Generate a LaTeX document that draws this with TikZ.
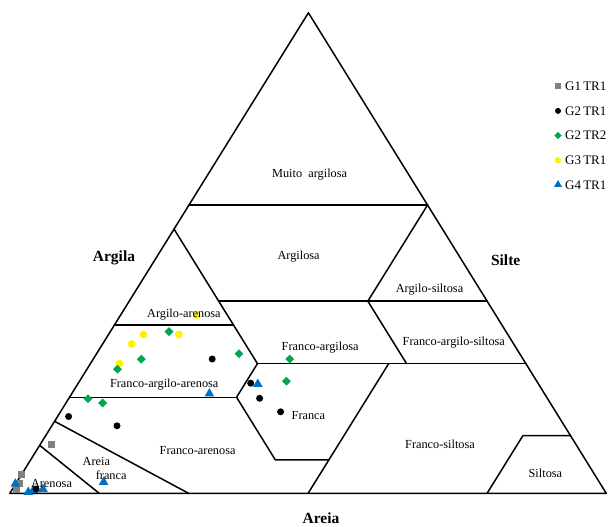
\documentclass[tikz,border=0pt]{standalone}
\usepackage{fontspec}
\setmainfont{Liberation Serif}
\usetikzlibrary{shapes.geometric}
\definecolor{ptgray}{RGB}{128,128,128}
\definecolor{ptgreen}{RGB}{0,166,80}
\definecolor{ptyellow}{RGB}{255,242,0}
\definecolor{ptblue}{RGB}{0,112,192}
\begin{document}
\begin{tikzpicture}[x=1pt,y=-1pt,
  bnd/.style={line width=1.5pt,black,line cap=round,line join=round},
  lbl/.style={font=\fontsize{12.3}{14}\selectfont,inner sep=0pt},
  axl/.style={font=\fontsize{15.5}{17}\selectfont\bfseries,inner sep=0pt},
  leg/.style={font=\fontsize{13}{15}\selectfont,inner sep=0pt,anchor=west},
  psq/.style={rectangle,fill=ptgray,minimum size=7pt,inner sep=0pt},
  pbk/.style={circle,fill=black,minimum size=7pt,inner sep=0pt},
  pgr/.style={diamond,fill=ptgreen,minimum size=9pt,inner sep=0pt},
  pye/.style={circle,fill=ptyellow,minimum size=7.8pt,inner sep=0pt},
  pbl/.style={regular polygon,regular polygon sides=3,fill=ptblue,minimum size=11pt,inner sep=0pt}]
\useasboundingbox (0,0) rectangle (616,527);
\fill[white] (0,0) rectangle (616,527);
% ternary frame: (silt, clay) in percent
\begin{scope}[shift={(9.8pt,-493.4pt)},x={(5.965pt,0pt)},y={(2.986pt,4.806pt)}]
  \coordinate (A) at (0,0);
  \coordinate (B) at (100,0);
  \coordinate (C) at (0,100);
  \coordinate (m1) at (0,60);   \coordinate (m2) at (40,60);
  \coordinate (g1) at (15,40);  \coordinate (g2) at (60,40);
  \coordinate (s1) at (0,55);   \coordinate (s2) at (28,27);
  \coordinate (t1) at (40,40);
  \coordinate (c1) at (0,35);   \coordinate (c2) at (20,35);
  \coordinate (k1) at (73,27);
  \coordinate (d1) at (0,20);   \coordinate (d2) at (28,20);
  \coordinate (e1) at (41,7);   \coordinate (e2) at (50,7);
  \coordinate (f1) at (50,0);   \coordinate (f2) at (50,27);
  \coordinate (h2) at (53,27);
  \coordinate (u1) at (80,0);   \coordinate (u2) at (80,12);  \coordinate (u3) at (88,12);
  \coordinate (l1) at (0,15);   \coordinate (l2) at (30,0);
  \coordinate (n1) at (0,10);   \coordinate (n2) at (15,0);
\end{scope}
\draw[bnd] (A) -- (B) -- (C) -- cycle;
\draw[bnd] (m1) -- (m2);
\draw[bnd] (g1) -- (g2);
\draw[bnd] (s1) -- (s2);
\draw[bnd] (t1) -- (m2);
\draw[bnd] (c1) -- (c2);
\draw[bnd] (s2) -- (k1);
\draw[bnd] (d1) -- (d2);
\draw[bnd] (s2) -- (d2) -- (e1) -- (e2);
\draw[bnd] (f1) -- (f2);
\draw[bnd] (t1) -- (h2);
\draw[bnd] (u1) -- (u2) -- (u3);
\draw[bnd] (l1) -- (l2);
\draw[bnd] (n1) -- (n2);
% data points
\node[pye] (y5) at (196.5,315.3) {};
\node[pye] (y1) at (143.4,334.5) {};
\node[pye] (y2) at (131.6,343.9) {};
\node[pye] (y3) at (178.8,334.5) {};
\node[pye] (y4) at (119.5,363.6) {};
\node[pgr] (q1) at (169,331.6) {};
\node[pgr] (q2) at (239,353.8) {};
\node[pgr] (q3) at (141.3,359.2) {};
\node[pgr] (q4) at (117.4,369.2) {};
\node[pgr] (q5) at (289.7,359) {};
\node[pgr] (q6) at (286.4,381.2) {};
\node[pgr] (q7) at (88,398.8) {};
\node[pgr] (q8) at (102.6,403) {};
\node[pbk] (k1p) at (212.2,359) {};
\node[pbk] (k2p) at (250.7,383.2) {};
\node[pbk] (k3p) at (259.6,398.3) {};
\node[pbk] (k4p) at (280.6,411.8) {};
\node[pbk] (k5p) at (68.6,416.5) {};
\node[pbk] (k6p) at (117,425.8) {};
\node[psq] (r1) at (51,444.5) {};
\node[psq] (r2) at (21.7,474) {};
\node[psq] (r3) at (19.5,483.8) {};
\node[psq] (r4) at (16.5,489.5) {};
\node[pbl] (b1) at (209.4,393.6) {};
\node[pbl] (b2) at (257.8,384) {};
\node[pbl] (b3) at (103.6,482) {};
\node[pbl] (b4) at (15.3,483.8) {};
\node[pbl] (b5) at (28.3,492) {};
\node[pbl] (b6) at (33.5,490) {};
\node[pbk] (k7p) at (36.1,489) {};
\node[pbl] (b7) at (43,489) {};
% region labels
\node[lbl] (L1) at (309.6,174.1) {Muito\ \ argilosa};
\node[lbl] (L2) at (298.6,256.1) {Argilosa};
\node[lbl] (L3) at (429.5,289.1) {Argilo-siltosa};
\node[lbl] (L4) at (183.9,314.3) {Argilo-arenosa};
\node[lbl] (L5) at (320.2,347.2) {Franco-argilosa};
\node[lbl] (L6) at (453.8,342.2) {Franco-argilo-siltosa};
\node[lbl] (L7) at (164.2,384.2) {Franco-argilo-arenosa};
\node[lbl] (L8) at (308.4,415.1) {Franca};
\node[lbl] (L9) at (197.6,450.4) {Franco-arenosa};
\node[lbl] (L10) at (440,444.7) {Franco-siltosa};
\node[lbl] (L11) at (545.4,473.3) {Siltosa};
\node[lbl] (L12) at (96.3,461.5) {Areia};
\node[lbl] (L13) at (111.2,475.6) {franca};
\node[lbl] (L14) at (51.5,483) {Arenosa};
% axis labels
\node[axl] (AX1) at (114,258.2) {Argila};
\node[axl] (AX2) at (505.7,260.5) {Silte};
\node[axl] (AX3) at (321,518.5) {Areia};
% legend
\node[psq,minimum size=6pt] (lg1) at (558,86.5) {};
\node[pbk,minimum size=6pt] (lg2) at (558,110.9) {};
\node[pgr,minimum size=7.5pt] (lg3) at (558,135.5) {};
\node[pye,minimum size=6.5pt] (lg4) at (558,160.3) {};
\node[pbl,minimum size=9pt] (lg5) at (558,184.5) {};
\node[leg] (lt1) at (565,86.5) {G1\,TR1};
\node[leg] (lt2) at (565,110.9) {G2\,TR1};
\node[leg] (lt3) at (565,135.5) {G2\,TR2};
\node[leg] (lt4) at (565,160.3) {G3\,TR1};
\node[leg] (lt5) at (565,184.9) {G4\,TR1};
\end{tikzpicture}
\end{document}
